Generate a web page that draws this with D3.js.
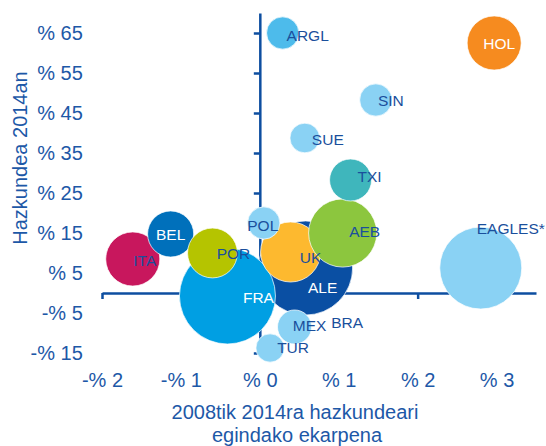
<!DOCTYPE html>
<html>
<head>
<meta charset="utf-8">
<style>
  body { margin: 0; background: #fff; }
  svg { font-family: "Liberation Sans", Arial, sans-serif; }
  .axis path, .axis line { stroke: #0d4ea0; stroke-width: 2.5px; }
  .axis text { fill: #1d58a7; font-size: 20px; }
  .title { fill: #1d58a7; font-size: 20px; }
  .bubble { stroke: #fff; stroke-width: 1px; stroke-opacity: 0.7; }
  .label { font-size: 15.5px; }
</style>
</head>
<body>
<svg id="chart" width="546" height="446"></svg>
<script src="https://d3js.org/d3.v7.min.js"></script>
<script>
// countries in drawing order (bottom to top)
const countries = ["EAGLES*", "ALE", "FRA", "ITA", "BEL", "POR", "UK", "AEB", "TXI",
                   "POL", "BRA", "MEX", "TUR", "SUE", "SIN", "ARGL", "HOL"];
// contribution to growth 2008-2014 (%)
const contribution = [2.8, 0.58, -0.41, -1.61, -1.13, -0.6, 0.39, 1.05, 1.15,
                      0.05, 0.46, 0.44, 0.13, 0.57, 1.47, 0.29, 2.97];
// growth in 2014 (%)
const growth = [6.25, 6.25, -0.75, 8.5, 14.75, 10, 10.25, 15, 28.25,
                17.5, -8, -8.5, -13.75, 38.75, 48.25, 65, 62.5];
// bubble size
const size = [168, 221, 230, 73, 53, 62, 90, 116, 44,
              26, 10, 29, 20, 22, 26, 26, 73];
const colors = ["#8ad2f4", "#0a4fa3", "#009fe3", "#c8175d", "#0070bb", "#b5c400", "#fdb92f", "#8cc63e", "#3fb6bc",
                "#8ad2f4", "#8ad2f4", "#8ad2f4", "#8ad2f4", "#8ad2f4", "#8ad2f4", "#4dbbeb", "#f68b1f"];

const xTicks = [-2, -1, 0, 1, 2, 3];
const yTicks = [-15, -5, 5, 15, 25, 35, 45, 55, 65];

// label placement relative to bubble centre
const labelNudge = {
  "EAGLES*": [30, -40], "ALE": [17, 19], "FRA": [31, 1], "ITA": [12, 1], "BEL": [0, 0],
  "POR": [21, 0], "UK": [20, 5], "AEB": [22, -2], "TXI": [19, -4], "POL": [-1, 2],
  "BRA": [51, -3], "MEX": [15, -2], "TUR": [23, -1], "SUE": [23, 1], "SIN": [15, 0],
  "ARGL": [25, 2], "HOL": [5, 0]
};
const whiteLabels = ["HOL", "BEL", "FRA", "ALE"];

const data = countries.map((c, i) => ({
  name: c, x: contribution[i], y: growth[i], s: size[i], color: colors[i]
}));

const svg = d3.select("#chart");
const x = d3.scaleLinear().domain([-2, 3.5]).range([102, 536]);
const y = d3.scaleLinear().domain([-15, 70]).range([353, 13]);
const r = d3.scaleSqrt().domain([0, 230]).range([0, 48]);

const fmt = v => (v < 0 ? "-% " + Math.abs(v) : "% " + v);

svg.append("g")
  .attr("class", "axis")
  .attr("transform", `translate(0,${y(0)})`)
  .call(d3.axisBottom(x).tickValues(xTicks).tickFormat(fmt).tickSize(6).tickSizeOuter(0).tickPadding(74));

svg.append("g")
  .attr("class", "axis")
  .attr("transform", `translate(${x(0)},0)`)
  .call(d3.axisLeft(y).tickValues(yTicks).tickFormat(fmt).tickSize(6).tickSizeOuter(0).tickPadding(171));

svg.selectAll(".axis .domain").attr("fill", "none");

svg.selectAll(".bubble")
  .data(data)
  .enter().append("circle")
  .attr("class", "bubble")
  .attr("cx", d => x(d.x))
  .attr("cy", d => y(d.y))
  .attr("r", d => r(d.s))
  .attr("fill", d => d.color);

svg.selectAll(".label")
  .data(data)
  .enter().append("text")
  .attr("class", "label")
  .attr("x", d => x(d.x) + labelNudge[d.name][0])
  .attr("y", d => y(d.y) + labelNudge[d.name][1])
  .attr("dy", "0.36em")
  .attr("text-anchor", "middle")
  .attr("fill", d => whiteLabels.includes(d.name) ? "#ffffff" : "#1a4f9c")
  .text(d => d.name);

svg.append("text")
  .attr("class", "title")
  .attr("transform", "translate(27,158) rotate(-90)")
  .attr("text-anchor", "middle")
  .text("Hazkundea 2014an");

const xt = svg.append("text")
  .attr("class", "title")
  .attr("text-anchor", "middle");
xt.append("tspan").attr("x", 295).attr("y", 419).text("2008tik 2014ra hazkundeari");
xt.append("tspan").attr("x", 297).attr("y", 442).text("egindako ekarpena");
</script>
</body>
</html>
